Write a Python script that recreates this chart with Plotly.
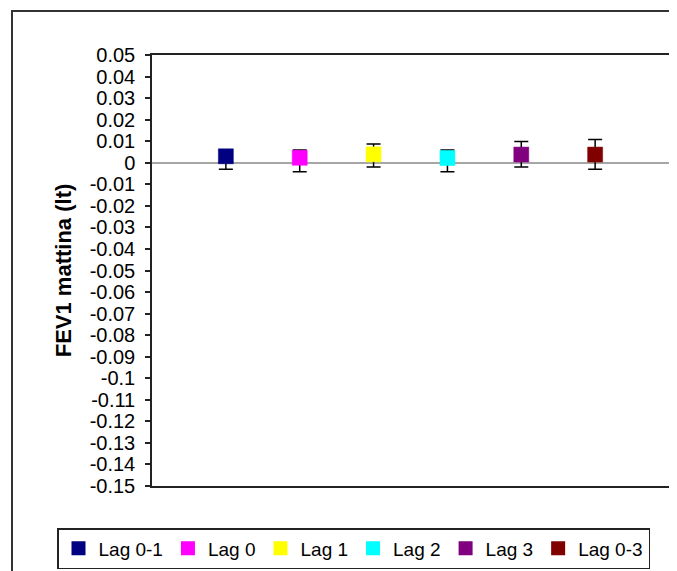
import plotly.graph_objects as go

# Data
series_names = ["Lag 0-1", "Lag 0", "Lag 1", "Lag 2", "Lag 3", "Lag 0-3"]
estimates = [0.0030, 0.0023, 0.0039, 0.0022, 0.0038, 0.0038]
upper_ci = [0.0055, 0.0059, 0.0087, 0.0059, 0.0099, 0.0108]
lower_ci = [-0.0030, -0.0042, -0.0020, -0.0042, -0.0020, -0.0030]
colors = ["#000080", "#FF00FF", "#FFFF00", "#00FFFF", "#800080", "#800000"]

tick_vals = [round(0.05 - 0.01 * i, 2) for i in range(21)]
tick_text = [("-" if v < 0 else "") + (("%g" % abs(v)) if v != 0 else "0") for v in tick_vals]

W, H = 677, 571
OFF = 8  # page body margin that offsets the figure inside the page
# target page-pixel geometry of the plot area
PL, PR, PT, PB = 152, 669, 55, 486
L = PL - OFF
T = PT - OFF
R = W - (PR - OFF)
B = H - (PB - OFF)
plot_w = W - L - R
plot_h = H - T - B

fig = go.Figure()
for i, name in enumerate(series_names):
    fig.add_trace(go.Scatter(
        x=[i + 1], y=[estimates[i]], name=name, mode="markers",
        marker=dict(symbol="square", size=15, color=colors[i],
                    line=dict(width=0.5, color=colors[i])),
        error_y=dict(type="data", symmetric=False,
                     array=[upper_ci[i] - estimates[i]],
                     arrayminus=[estimates[i] - lower_ci[i]],
                     color="black", thickness=1.5, width=7),
    ))


def px_to_paper_x(px):
    return (px - OFF - L) / plot_w


def px_to_paper_y(py):
    return (H - B - (py - OFF)) / plot_h


# outer chart-area border
fig.add_shape(type="rect", xref="paper", yref="paper",
              x0=px_to_paper_x(12), x1=px_to_paper_x(720),
              y0=px_to_paper_y(620), y1=px_to_paper_y(11),
              line=dict(color="#333333", width=2), fillcolor="rgba(0,0,0,0)",
              layer="below")

font_family = "Arial, Liberation Sans, sans-serif"
fig.update_layout(
    width=W, height=H,
    margin=dict(l=L, r=R, t=T, b=B, pad=0, autoexpand=False),
    paper_bgcolor="white", plot_bgcolor="white",
    font=dict(family=font_family, color="black", size=20),
    showlegend=True,
    legend=dict(orientation="h", x=px_to_paper_x(57), xanchor="left",
                y=px_to_paper_y(528), yanchor="top",
                bordercolor="#222222", borderwidth=1.5,
                font=dict(size=19, family=font_family),
                itemsizing="constant",
                traceorder="normal", tracegroupgap=0),
    xaxis=dict(range=[0, 7], showticklabels=False, ticks="", showgrid=False,
               zeroline=False, showline=True, linecolor="#222222", linewidth=1.5,
               mirror=True, fixedrange=True),
    yaxis=dict(range=[-0.15, 0.05], tickvals=tick_vals, ticktext=tick_text,
               ticks="outside", ticklen=5, tickcolor="#222222", tickwidth=1.5,
               ticklabelstandoff=6,
               showgrid=False, zeroline=True, zerolinecolor="#a6a6a6",
               zerolinewidth=2, showline=True, linecolor="#222222",
               linewidth=1.5, mirror=True,
               tickfont=dict(size=20, family=font_family),
               title=dict(text="<b>FEV1 mattina (lt)</b>", standoff=12,
                          font=dict(size=22, family=font_family))),
)

fig.write_html("out.html")
